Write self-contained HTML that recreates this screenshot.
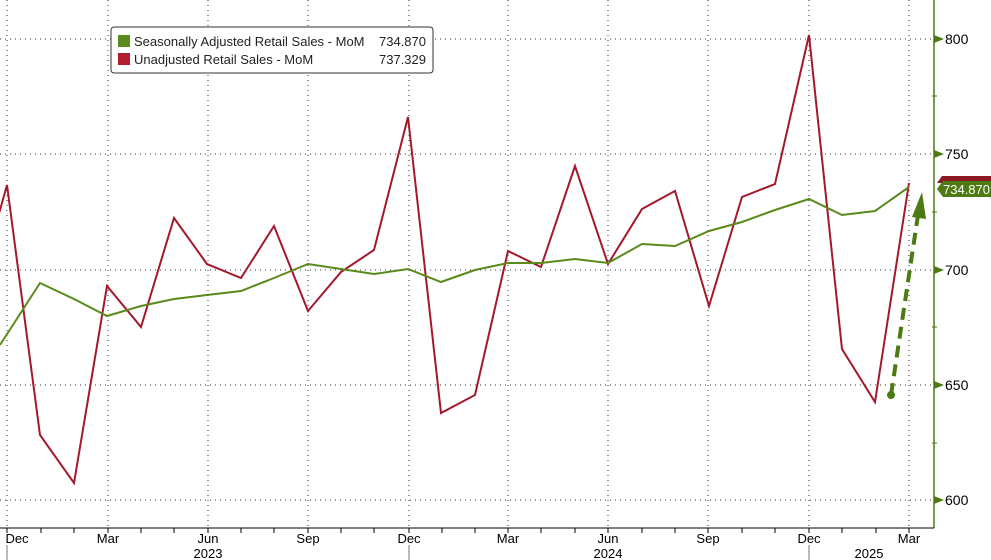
<!DOCTYPE html>
<html><head><style>body{margin:0;background:#fff}svg{display:block}</style></head><body>
<svg width="991" height="560" xmlns="http://www.w3.org/2000/svg" font-family="Liberation Sans, sans-serif">
<rect width="991" height="560" fill="#fff"/>
<g stroke="#333" stroke-width="1" stroke-dasharray="1,4">
<line x1="0" x2="932" y1="39" y2="39"/><line x1="0" x2="932" y1="154" y2="154"/><line x1="0" x2="932" y1="270" y2="270"/><line x1="0" x2="932" y1="385" y2="385"/><line x1="0" x2="932" y1="500" y2="500"/>
<line x1="7" x2="7" y1="0" y2="528"/><line x1="108" x2="108" y1="0" y2="528"/><line x1="208" x2="208" y1="0" y2="528"/><line x1="308" x2="308" y1="0" y2="528"/><line x1="409" x2="409" y1="0" y2="528"/><line x1="508" x2="508" y1="0" y2="528"/><line x1="608" x2="608" y1="0" y2="528"/><line x1="708" x2="708" y1="0" y2="528"/><line x1="809" x2="809" y1="0" y2="528"/><line x1="909" x2="909" y1="0" y2="528"/>
</g>
<line x1="934" x2="934" y1="0" y2="528" stroke="#4d7a12" stroke-width="1.5"/>
<g stroke="#4d7a12"><line x1="932" x2="937" y1="96" y2="96"/><line x1="932" x2="937" y1="212" y2="212"/><line x1="932" x2="937" y1="327" y2="327"/><line x1="932" x2="937" y1="443" y2="443"/></g>
<g fill="#4d7a12"><polygon points="934,35 944,39 934,43"/><polygon points="934,150 944,154 934,158"/><polygon points="934,266 944,270 934,274"/><polygon points="934,381 944,385 934,389"/><polygon points="934,496 944,500 934,504"/></g>
<g font-size="14" fill="#000"><text x="945" y="44">800</text><text x="945" y="159">750</text><text x="945" y="275">700</text><text x="945" y="390">650</text><text x="945" y="505">600</text></g>
<line x1="0" x2="934" y1="528" y2="528" stroke="#000"/>
<g stroke="#000" id="t"></g>
<path stroke="#000" fill="none" d="M7,528v5M41,528v5M74,528v5M108,528v5M141,528v5M174,528v5M208,528v5M241,528v5M274,528v5M308,528v5M341,528v5M374,528v5M409,528v5M442,528v5M475,528v5M508,528v5M541,528v5M575,528v5M608,528v5M642,528v5M675,528v5M708,528v5M742,528v5M775,528v5M809,528v5M842,528v5M876,528v5M909,528v5"/>
<g font-size="13" fill="#000" text-anchor="middle">
<text x="17" y="543">Dec</text><text x="108" y="543">Mar</text><text x="208" y="543">Jun</text><text x="308" y="543">Sep</text><text x="409" y="543">Dec</text><text x="508" y="543">Mar</text><text x="608" y="543">Jun</text><text x="708" y="543">Sep</text><text x="809" y="543">Dec</text><text x="909" y="543">Mar</text>
<text x="208" y="558">2023</text><text x="608" y="558">2024</text><text x="869" y="558">2025</text></g>
<g stroke="#777"><line x1="7" x2="7" y1="545" y2="560"/><line x1="409" x2="409" y1="545" y2="560"/><line x1="809" x2="809" y1="545" y2="560"/></g>
<polyline fill="none" stroke="#a3192b" stroke-width="2" points="-26,303 7,185 40,435 74,483 107,286 141,327 174,218 207,264 241,278 274,226 308,311 341,272 374,250 408,117 441,413 475,395 508,251 541,267 575,166 608,264 642,209 675,191 709,306 742,197 775,184 809,35 842,349 875,402 909,183"/>
<polyline fill="none" stroke="#5a8a1a" stroke-width="2" points="0,345 40,283 74,299 107,316 141,306 174,299 207,295 241,291 274,278 308,264 341,269 374,274 408,269 441,282 475,270 508,263 541,263 575,259 608,263 642,244 675,246 709,231 742,222 775,210 809,199 842,215 875,211 909,187"/>
<line x1="891" y1="395" x2="918" y2="215" stroke="#4d7a12" stroke-width="4" stroke-dasharray="12,7"/>
<polygon points="922,192 912,217 926,219" fill="#4d7a12"/>
<circle cx="891" cy="395" r="4" fill="#4d7a12"/>
<polygon points="942,176 991,176 991,183 937,183" fill="#8b1a22"/>
<polygon points="943,181 991,181 991,197 943,197 937,189" fill="#4d7a12"/>
<text x="943" y="194" font-size="13" fill="#fff">734.870</text>
<rect x="111" y="27" width="322" height="46" rx="3" fill="#fff" stroke="#333"/>
<rect x="118" y="35" width="12" height="12" fill="#5a8a1a"/><rect x="118" y="53" width="12" height="12" fill="#b01d2e"/>
<g font-size="13" fill="#222"><text x="134" y="46">Seasonally Adjusted Retail Sales - MoM</text><text x="426" y="46" text-anchor="end">734.870</text><text x="134" y="64">Unadjusted Retail Sales - MoM</text><text x="426" y="64" text-anchor="end">737.329</text></g>
</svg>
</body></html>
